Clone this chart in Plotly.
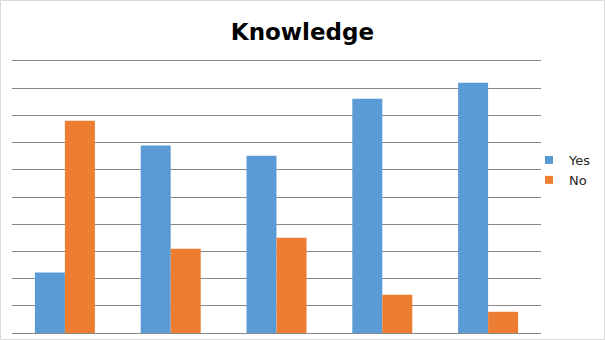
import plotly.graph_objects as go

categories = ["Q1", "Q2", "Q3", "Q4", "Q5"]
yes_values = [22.2, 68.9, 65.2, 86.1, 92.0]
no_values = [78.0, 31.0, 35.0, 14.1, 7.8]
y_ticks = [0, 10, 20, 30, 40, 50, 60, 70, 80, 90, 100]

W, H = 605, 340
ml, mr, mt, mb = 12, 64, 61, 7
pw, ph = W - ml - mr, H - mt - mb

blue = "#5B9BD5"
orange = "#ED7D31"
grid = "#898989"

fig = go.Figure()
fig.add_trace(go.Bar(x=categories, y=yes_values, name="Yes", marker_color=blue,
                     marker_line_width=0, showlegend=False))
fig.add_trace(go.Bar(x=categories, y=no_values, name="No", marker_color=orange,
                     marker_line_width=0, showlegend=False))
# legend entries with small square swatches
fig.add_trace(go.Scatter(x=[None], y=[None], mode="markers", name="Yes",
                         marker=dict(symbol="square", size=8, color=blue)))
fig.add_trace(go.Scatter(x=[None], y=[None], mode="markers", name="No",
                         marker=dict(symbol="square", size=8, color=orange)))

fig.update_layout(
    width=W, height=H,
    margin=dict(l=ml, r=mr, t=mt, b=mb, pad=0),
    paper_bgcolor="white", plot_bgcolor="white",
    barmode="group", bargap=0.433, bargroupgap=0,
    font=dict(family="DejaVu Sans", color="#262626", size=13),
    title=dict(text="<b>Knowledge</b>", x=0.5, xref="container", xanchor="center",
               y=1 - 32 / H, yref="container", yanchor="middle",
               font=dict(family="DejaVu Sans", size=23, color="#000000")),
    legend=dict(x=(549 - 20 - ml) / pw, xanchor="left", y=1 - (145 - mt) / ph,
                yanchor="top", tracegroupgap=0, itemwidth=30,
                bgcolor="rgba(0,0,0,0)", font=dict(size=13, color="#262626")),
    xaxis=dict(showticklabels=False, showgrid=False, zeroline=False,
               showline=True, mirror=True, linecolor=grid, linewidth=1, ticks=""),
    yaxis=dict(range=[0, 100], tickvals=y_ticks, showticklabels=False,
               showgrid=True, gridcolor=grid, gridwidth=1,
               zeroline=False, showline=False, ticks=""),
    shapes=[dict(type="rect", xref="paper", yref="paper",
                 x0=-(ml - 0.5) / pw, x1=1 + (mr - 0.5) / pw,
                 y0=-(mb - 0.5) / ph, y1=1 + (mt - 0.5) / ph,
                 line=dict(color="#D9D9D9", width=1), layer="below")],
)

fig.write_html("out.html")
